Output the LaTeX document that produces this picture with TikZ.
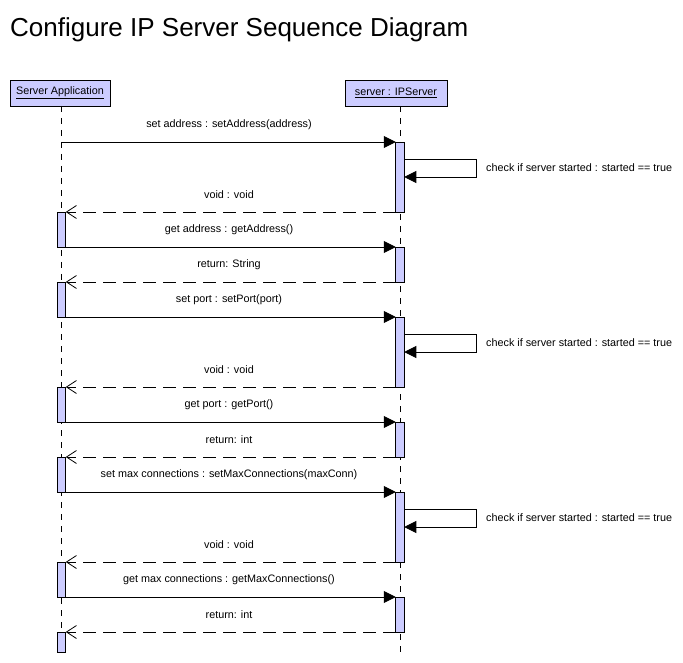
\documentclass[tikz,border=0pt]{standalone}
\usepackage{fontspec}
\setmainfont{Liberation Sans}
\usetikzlibrary{arrows.meta}
\definecolor{actfill}{RGB}{204,204,255}
\tikzset{
  lbl/.style={font=\fontsize{10.8}{12}\selectfont, inner sep=0pt},
  head/.style={draw=black, fill=actfill, line width=0.8pt, inner sep=0pt, outer sep=0pt, minimum height=26pt, font=\fontsize{10.8}{12}\selectfont},
  act/.style={draw=black, fill=actfill, line width=0.8pt, inner sep=0pt, outer sep=0pt, minimum width=8.5pt},
  lifeline/.style={line width=0.8pt, dash pattern=on 6pt off 6pt},
  msg/.style={line width=0.9pt, -{Triangle[length=12pt,width=12pt]}},
  ret/.style={line width=0.8pt, dash pattern=on 13pt off 7pt, -{Straight Barb[length=10pt,width=13pt,line width=0.8pt]}},
}
\begin{document}
\begin{tikzpicture}[x=1pt,y=-1pt]
\useasboundingbox (0,0) rectangle (683,663);
\node[anchor=base west, inner sep=0pt, font=\fontsize{26}{30}\selectfont] (title) at (10,37) {Configure IP Server Sequence Diagram};
% headers
\node[head, minimum width=100pt] (app) at (60,93) {\underline{Server Application}};
\node[head, minimum width=102pt] (srv) at (396,93) {\underline{server : IPServer}};
% lifelines
\coordinate (append) at (61.5,652);
\coordinate (srvend) at (400,652);
\draw[lifeline] (61.5,106) -- (append);
\draw[lifeline] (400,106) -- (srvend);
% activations (right)
\node[act, minimum height=70pt] (r1) at (400,177) {};
\node[act, minimum height=35pt] (r2) at (400,264.5) {};
\node[act, minimum height=70pt] (r3) at (400,352) {};
\node[act, minimum height=35pt] (r4) at (400,439.5) {};
\node[act, minimum height=70pt] (r5) at (400,527) {};
\node[act, minimum height=35pt] (r6) at (400,614.5) {};
% activations (left)
\node[act, minimum height=35pt] (a1) at (61.5,229.5) {};
\node[act, minimum height=35pt] (a2) at (61.5,299.5) {};
\node[act, minimum height=35pt] (a3) at (61.5,404.5) {};
\node[act, minimum height=35pt] (a4) at (61.5,474.5) {};
\node[act, minimum height=35pt] (a5) at (61.5,579.5) {};
\node[act, minimum height=20pt] (a6) at (61.5,642) {};
% message sources on the left lifeline
\coordinate (m1) at (61.5,142);
% messages
\draw[msg] (m1) -- (r1.north west);
\node[lbl] (t1) at (229,125) {set address : setAddress(address)};
\draw[ret] (r1.south west) -- (a1.north east);
\node[lbl] (t2) at (229,195) {void : void};
\draw[msg] (a1.south west) -- (r2.north west);
\node[lbl] (t3) at (229,230) {get address : getAddress()};
\draw[ret] (r2.south west) -- (a2.north east);
\node[lbl] (t4) at (229,265) {return: String};
\draw[msg] (a2.south west) -- (r3.north west);
\node[lbl] (t5) at (229,300) {set port : setPort(port)};
\draw[ret] (r3.south west) -- (a3.north east);
\node[lbl] (t6) at (229,370) {void : void};
\draw[msg] (a3.south west) -- (r4.north west);
\node[lbl] (t7) at (229,405) {get port : getPort()};
\draw[ret] (r4.south west) -- (a4.north east);
\node[lbl] (t8) at (229,440) {return: int};
\draw[msg] (a4.south west) -- (r5.north west);
\node[lbl] (t9) at (229,475) {set max connections : setMaxConnections(maxConn)};
\draw[ret] (r5.south west) -- (a5.north east);
\node[lbl] (t10) at (229,545) {void : void};
\draw[msg] (a5.south west) -- (r6.north west);
\node[lbl] (t11) at (229,580) {get max connections : getMaxConnections()};
\draw[ret] (r6.south west) -- (a6.north east);
\node[lbl] (t12) at (229,615) {return: int};
% self calls
\foreach \n/\y in {1/159,3/334,5/509}{
  \coordinate (s\n a) at (404.25,\y);
  \coordinate (s\n b) at (476,\y);
  \coordinate (s\n c) at (476,\y+18);
  \coordinate (s\n d) at (404.25,\y+18);
  \draw[msg] (s\n a) -- (s\n b) -- (s\n c) -- (s\n d);
  \node[lbl, anchor=west] (c\n) at (486,\y+9) {check if server started : started == true};
}
\end{tikzpicture}
\end{document}
